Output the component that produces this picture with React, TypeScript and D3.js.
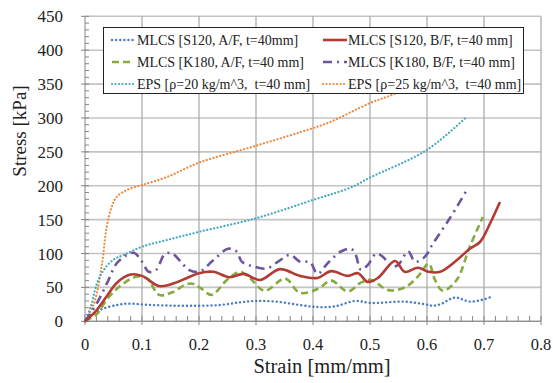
import React, { useEffect, useRef } from 'react'
import * as d3 from 'd3'

// strain [mm/mm], stress [kPa]
const s120af = [
  [0, 0], [0.016, 12], [0.033, 19], [0.056, 24], [0.074, 26], [0.116, 24], [0.16, 23], [0.2, 23],
  [0.237, 24], [0.272, 28], [0.3, 30], [0.336, 29], [0.377, 24], [0.408, 21], [0.438, 22],
  [0.474, 30], [0.502, 27], [0.56, 29], [0.597, 25], [0.61, 23], [0.623, 25], [0.649, 35],
  [0.675, 29], [0.698, 32], [0.716, 37]
]
const s120bf = [
  [0, 0], [0.021, 17], [0.039, 38], [0.056, 57], [0.08, 69], [0.1, 67], [0.13, 52], [0.156, 56],
  [0.179, 64], [0.2, 71], [0.225, 73], [0.254, 65], [0.278, 70], [0.307, 61], [0.342, 77],
  [0.377, 67], [0.408, 64], [0.432, 74], [0.461, 67], [0.479, 71], [0.496, 58], [0.514, 64],
  [0.544, 89], [0.561, 73], [0.584, 79], [0.603, 73], [0.623, 73], [0.652, 90], [0.675, 107],
  [0.693, 117], [0.711, 145], [0.728, 176]
]
const k180af = [
  [0, 0], [0.021, 11], [0.039, 33], [0.063, 53], [0.091, 66], [0.109, 63], [0.13, 39], [0.151, 42],
  [0.179, 55], [0.191, 55], [0.203, 49], [0.222, 39], [0.249, 61], [0.272, 73], [0.289, 64],
  [0.315, 45], [0.351, 63], [0.377, 42], [0.409, 48], [0.432, 60], [0.461, 44], [0.484, 57],
  [0.502, 61], [0.532, 46], [0.561, 50], [0.584, 66], [0.603, 85], [0.614, 61], [0.628, 45],
  [0.652, 61], [0.675, 110], [0.698, 154]
]
const k180bf = [
  [0, 0], [0.021, 27], [0.039, 57], [0.056, 86], [0.074, 98], [0.086, 101], [0.1, 88], [0.112, 73],
  [0.125, 76], [0.139, 98], [0.151, 101], [0.168, 88], [0.182, 76], [0.2, 73], [0.225, 90],
  [0.251, 107], [0.266, 103], [0.275, 88], [0.295, 81], [0.319, 78], [0.342, 90], [0.36, 98],
  [0.377, 88], [0.395, 87], [0.408, 70], [0.426, 86], [0.449, 103], [0.467, 107], [0.475, 98],
  [0.484, 76], [0.496, 83], [0.511, 100], [0.523, 95], [0.537, 81], [0.549, 83], [0.567, 103],
  [0.579, 88], [0.596, 95], [0.61, 114], [0.64, 152], [0.668, 191]
]
const eps20 = [
  [0, 0], [0.01, 21], [0.021, 56], [0.033, 76], [0.05, 91], [0.068, 98], [0.1, 110], [0.144, 120],
  [0.2, 132], [0.3, 152], [0.4, 179], [0.465, 197], [0.5, 212], [0.6, 253], [0.67, 302]
]
const eps25 = [
  [0, 0], [0.016, 27], [0.03, 86], [0.038, 139], [0.047, 169], [0.056, 184], [0.074, 194],
  [0.1, 201], [0.144, 213], [0.2, 234], [0.3, 259], [0.4, 285], [0.43, 294], [0.5, 322],
  [0.547, 337], [0.6, 362]
]

const seriesNames = [
  'MLCS [S120, A/F, t=40mm]',
  'MLCS [S120, B/F, t=40 mm]',
  'MLCS [K180, A/F, t=40 mm]',
  'MLCS [K180, B/F, t=40 mm]',
  'EPS [ρ=20 kg/m^3,  t=40 mm]',
  'EPS [ρ=25 kg/m^3,  t=40 mm]'
]
const xTicks = [0, 0.1, 0.2, 0.3, 0.4, 0.5, 0.6, 0.7, 0.8]
const yTicks = [0, 50, 100, 150, 200, 250, 300, 350, 400, 450]

const styles = [
  { color: '#4a7cc0', width: 2.4, dash: '0.1 4', cap: 'round' },
  { color: '#b23b34', width: 2.6, dash: null, cap: 'butt' },
  { color: '#87ab42', width: 2.6, dash: '7 4', cap: 'butt' },
  { color: '#6e55a0', width: 2.6, dash: '9 5 2 5', cap: 'butt' },
  { color: '#47a8c3', width: 2.2, dash: '0.1 3.4', cap: 'round' },
  { color: '#ef8a3e', width: 2.2, dash: '0.1 3.4', cap: 'round' }
]

function App () {
  const ref = useRef<SVGSVGElement>(null)

  useEffect(() => {
    const svg = d3.select(ref.current)
    svg.selectAll('*').remove()
    const serif = '"Liberation Serif", "Times New Roman", serif'

    const x = d3.scaleLinear().domain([0, 0.8]).range([85, 541])
    const y = d3.scaleLinear().domain([0, 450]).range([321.3, 16.3])

    // grid
    const grid = svg.append('g')
    grid.selectAll('.hg').data(yTicks).enter().append('line')
      .attr('x1', 85).attr('x2', 541)
      .attr('y1', d => y(d)).attr('y2', d => y(d))
      .attr('stroke', '#c4c4c4').attr('stroke-width', 1.6)
    grid.selectAll('.vg').data(xTicks.slice(1)).enter().append('line')
      .attr('x1', d => x(d)).attr('x2', d => x(d))
      .attr('y1', 16.3).attr('y2', 321.3)
      .attr('stroke', '#a6a6a6').attr('stroke-width', 1.2)

    // axes lines and ticks
    const ax = svg.append('g').attr('stroke', '#868686').attr('stroke-width', 1)
    ax.append('line').attr('x1', 85).attr('x2', 85).attr('y1', 16.3).attr('y2', 321.3)
    ax.append('line').attr('x1', 85).attr('x2', 541).attr('y1', 321.3).attr('y2', 321.3)
    ax.selectAll('.ym').data(d3.range(0, 451, 10)).enter().append('line')
      .attr('x1', 85).attr('x2', 89).attr('y1', d => y(d)).attr('y2', d => y(d))
    ax.selectAll('.yM').data(yTicks).enter().append('line')
      .attr('x1', 81).attr('x2', 85).attr('y1', d => y(d)).attr('y2', d => y(d))
    ax.selectAll('.xm').data(d3.range(0, 41).map(i => i * 0.02)).enter().append('line')
      .attr('x1', d => x(d)).attr('x2', d => x(d)).attr('y1', 316).attr('y2', 321.3)
    ax.selectAll('.xM').data(xTicks).enter().append('line')
      .attr('x1', d => x(d)).attr('x2', d => x(d)).attr('y1', 321.3).attr('y2', 325)

    // tick labels
    svg.selectAll('.yl').data(yTicks).enter().append('text')
      .attr('x', 63).attr('y', d => y(d) + 6)
      .attr('text-anchor', 'end').attr('font-family', serif).attr('font-size', 17)
      .attr('fill', '#222').text(d => d)
    svg.selectAll('.xl').data(xTicks).enter().append('text')
      .attr('x', d => x(d)).attr('y', 350)
      .attr('text-anchor', 'middle').attr('font-family', serif).attr('font-size', 16.5)
      .attr('fill', '#222').text(d => (d === 0 ? '0' : d3.format('.1f')(d)))

    svg.append('text')
      .attr('transform', 'translate(26,131) rotate(-90)')
      .attr('text-anchor', 'middle').attr('font-family', serif).attr('font-size', 19)
      .attr('fill', '#222').text('Stress [kPa]')
    svg.append('text')
      .attr('x', 322).attr('y', 373)
      .attr('text-anchor', 'middle').attr('font-family', serif).attr('font-size', 20.5)
      .attr('fill', '#222').text('Strain [mm/mm]')

    // curves
    const line = d3.line<number[]>()
      .x(d => x(d[0])).y(d => y(d[1]))
      .curve(d3.curveCatmullRom.alpha(0.5))
    const data = [s120af, s120bf, k180af, k180bf, eps20, eps25]
    const drawOrder = [5, 4, 0, 2, 3, 1]
    drawOrder.forEach(i => {
      const st = styles[i]
      svg.append('path')
        .attr('d', line(data[i] as number[][]))
        .attr('fill', 'none')
        .attr('stroke', st.color)
        .attr('stroke-width', st.width)
        .attr('stroke-linecap', st.cap)
        .attr('stroke-dasharray', st.dash)
    })

    // legend
    const lg = svg.append('g')
    lg.append('rect')
      .attr('x', 103.5).attr('y', 27.5).attr('width', 420).attr('height', 66)
      .attr('fill', 'white').attr('stroke', '#222').attr('stroke-width', 1)
    const rowsY = [40, 62, 84]
    seriesNames.forEach((name, i) => {
      const col = i % 2
      const row = Math.floor(i / 2)
      const st = styles[i]
      const x0 = col === 0 ? 112 : 323
      const x1 = col === 0 ? 134 : 347
      const tx = col === 0 ? 137 : 348
      lg.append('line')
        .attr('x1', x0).attr('x2', x1).attr('y1', rowsY[row]).attr('y2', rowsY[row])
        .attr('stroke', st.color).attr('stroke-width', st.width)
        .attr('stroke-linecap', st.cap).attr('stroke-dasharray', st.dash)
      lg.append('text')
        .attr('x', tx).attr('y', rowsY[row] + 5)
        .attr('font-family', serif).attr('font-size', 14).attr('fill', '#222')
        .style('white-space', 'pre')
        .text(name)
    })
  }, [])

  return (
    <div style={{ position: 'absolute', left: 0, top: 0 }}>
      <svg ref={ref} width={553} height={383} style={{ display: 'block', background: 'white' }} />
    </div>
  )
}

export default App
